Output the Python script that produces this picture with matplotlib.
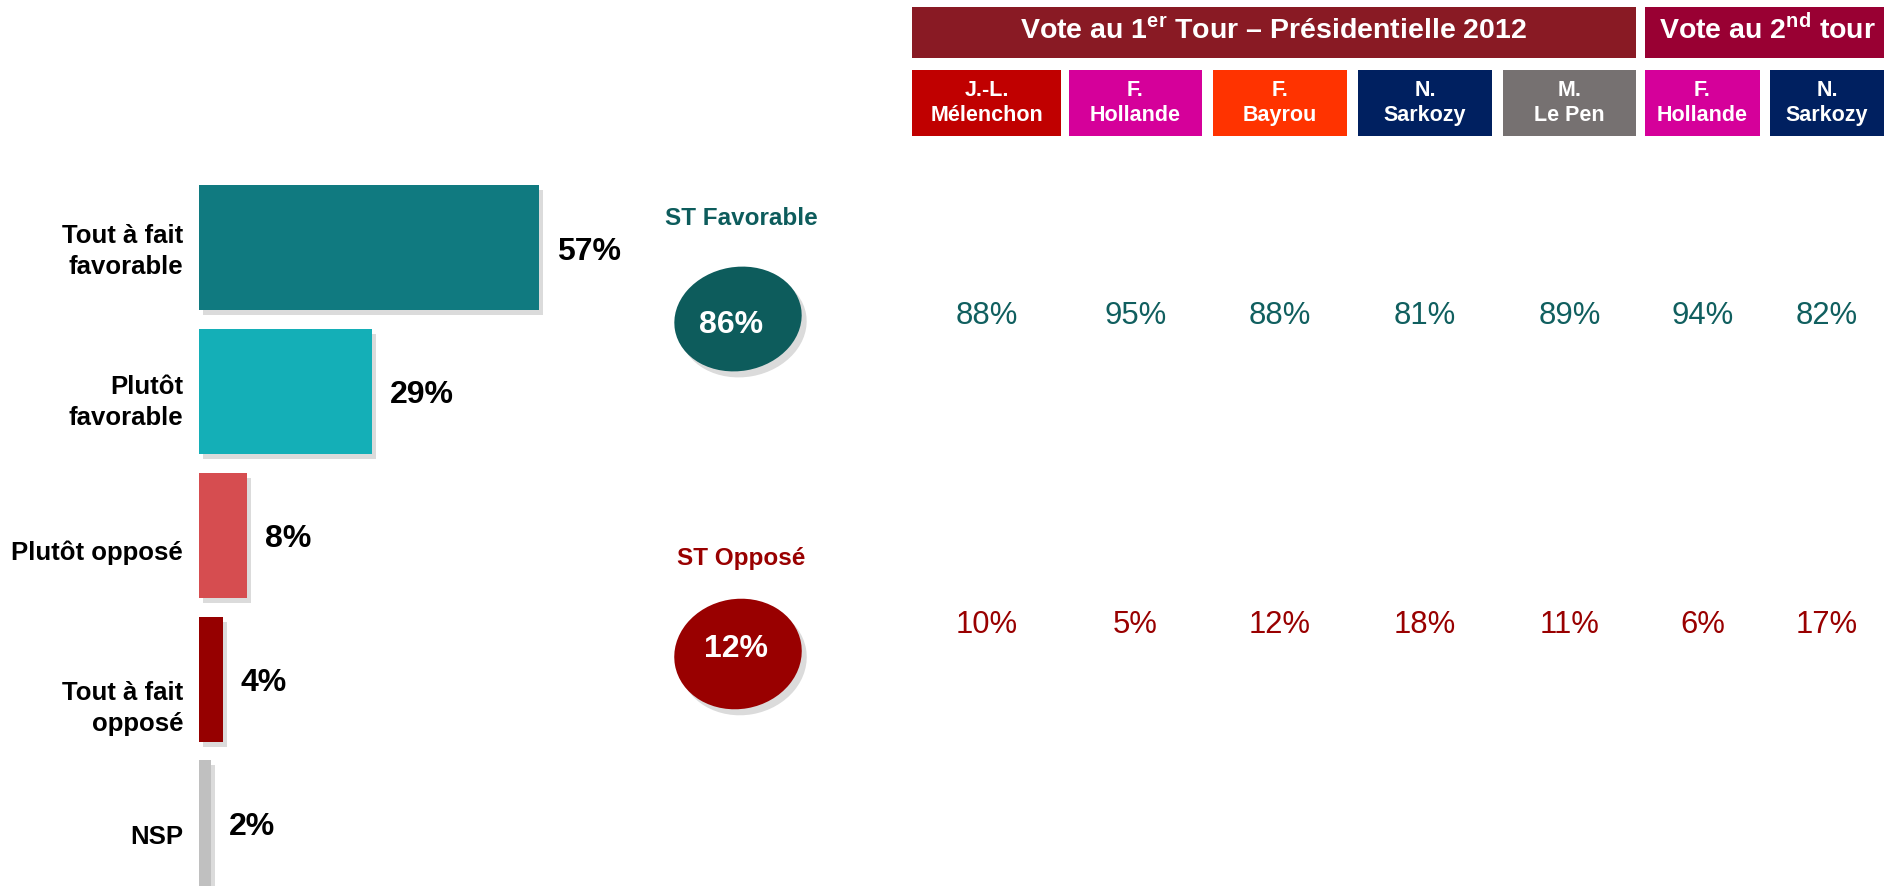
import matplotlib
matplotlib.use('Agg')

import numpy as np
import matplotlib.pyplot as plt
from matplotlib import patheffects as pe
from matplotlib.patches import Rectangle, Ellipse


categories = ['Tout à fait\nfavorable', 'Plutôt\nfavorable', 'Plutôt opposé',
              'Tout à fait\nopposé', 'NSP']
values = [57, 29, 8, 4, 2]
bar_colors = ['#107A80', '#14AFB7', '#D64D50', '#960000', '#C0C0C0']

st_labels = ['ST Favorable', 'ST Opposé']
st_values = [86, 12]
st_colors = ['#0D5C5C', '#990000']

candidates = ['J.-L.\nMélenchon', 'F.\nHollande', 'F.\nBayrou', 'N.\nSarkozy',
              'M.\nLe Pen', 'F.\nHollande', 'N.\nSarkozy']
cand_colors = ['#C00000', '#D5009A', '#FF3300', '#002060', '#767171',
               '#D5009A', '#002060']
fav_by_vote = [88, 95, 88, 81, 89, 94, 82]
opp_by_vote = [10, 5, 12, 18, 11, 6, 17]

W, H = 1890, 886
DPI = 100

plt.rcParams['font.family'] = ['Liberation Sans', 'DejaVu Sans']
plt.rcParams['mathtext.fontset'] = 'custom'
plt.rcParams['mathtext.rm'] = 'Liberation Sans:bold'
plt.rcParams['mathtext.bf'] = 'Liberation Sans:bold'

fig = plt.figure(figsize=(W / DPI, H / DPI), dpi=DPI)

# overlay in pixel coordinates for the header table and the circles
ov = fig.add_axes([0, 0, 1, 1])
ov.set_xlim(0, W)
ov.set_ylim(H, 0)
ov.axis('off')

# bars
ax = fig.add_axes([199 / W, 0, 596 / W, 710 / H])
ax.set_facecolor('none')
ypos = np.arange(len(values))
bars = ax.barh(ypos, values, height=0.87, color=bar_colors)
for b in bars:
    b.set_path_effects([pe.SimplePatchShadow(offset=(3, -3.5), shadow_rgbFace='#999999', alpha=0.35),
                        pe.Normal()])
ax.set_xlim(0, 100)
ax.set_ylim((H - 248) / 143.75, -0.5)
for y, v in zip(ypos, values):
    ax.annotate(f'{v}%', (v, y), xytext=(13, -8.5), textcoords='offset points',
                ha='left', va='baseline', fontsize=23, fontweight='bold',
                color='black')
# labels sit a little off the bar centres in the original
label_shift = [-0.02, 0.035, 0.1, 0.16, 0.08]
ax.set_yticks(ypos + np.array(label_shift))
ax.set_yticklabels(categories, fontsize=18.5, fontweight='bold', linespacing=1.38)
ax.tick_params(axis='y', length=0, pad=11.5)
ax.set_xticks([])
for s in ax.spines.values():
    s.set_visible(False)

# ST summaries
st_title_y = [218, 558]
st_centre = [(738, 319), (738, 654)]
st_size = [(128, 104), (128, 110)]
st_text_xy = [(731, 325), (736, 649)]
for lab, v, c, ty, (cx, cy), (ew, eh), (vx, vy) in zip(st_labels, st_values, st_colors,
                                                      st_title_y, st_centre, st_size,
                                                      st_text_xy):
    ov.text(cx + 3, ty, lab, ha='center', va='center', fontsize=17.5,
            fontweight='bold', color=c)
    ov.add_patch(Ellipse((cx + 5, cy + 6), ew, eh, angle=-10, color='#888888',
                         alpha=0.3, lw=0))
    ov.add_patch(Ellipse((cx, cy), ew, eh, angle=-10, color=c, lw=0))
    ov.text(vx, vy, f'{v}%', ha='center', va='center', fontsize=23,
            fontweight='bold', color='white')

# header
ov.add_patch(Rectangle((912, 7), 724, 51, color='#891A24', lw=0))
ov.add_patch(Rectangle((1645, 7), 239, 51, color='#990033', lw=0))
ov.text(1274, 38.5, 'Vote au $1^{\\rm er}$ Tour – Présidentielle 2012', ha='center',
        va='baseline', fontsize=20.5, fontweight='bold', color='white')
ov.text(1768, 38.5, 'Vote au $2^{\\rm nd}$ tour', ha='center', va='baseline',
        fontsize=20.5, fontweight='bold', color='white')

col_left = [912, 1069, 1213, 1358, 1503, 1645, 1770]
col_right = [1061, 1202, 1347, 1492, 1636, 1760, 1884]
for name, c, x0, x1, f, o in zip(candidates, cand_colors, col_left, col_right,
                                 fav_by_vote, opp_by_vote):
    ov.add_patch(Rectangle((x0, 70), x1 - x0, 66, color=c, lw=0))
    xc = (x0 + x1) / 2
    ov.text(xc, 103, name, ha='center', va='center', fontsize=15.5,
            fontweight='bold', color='white', linespacing=1.25)
    ov.text(xc, 316, f'{f}%', ha='center', va='center', fontsize=22.3,
            color='#105F5F')
    ov.text(xc, 625, f'{o}%', ha='center', va='center', fontsize=22.3,
            color='#990000')

fig.savefig('out.png', dpi=DPI)
